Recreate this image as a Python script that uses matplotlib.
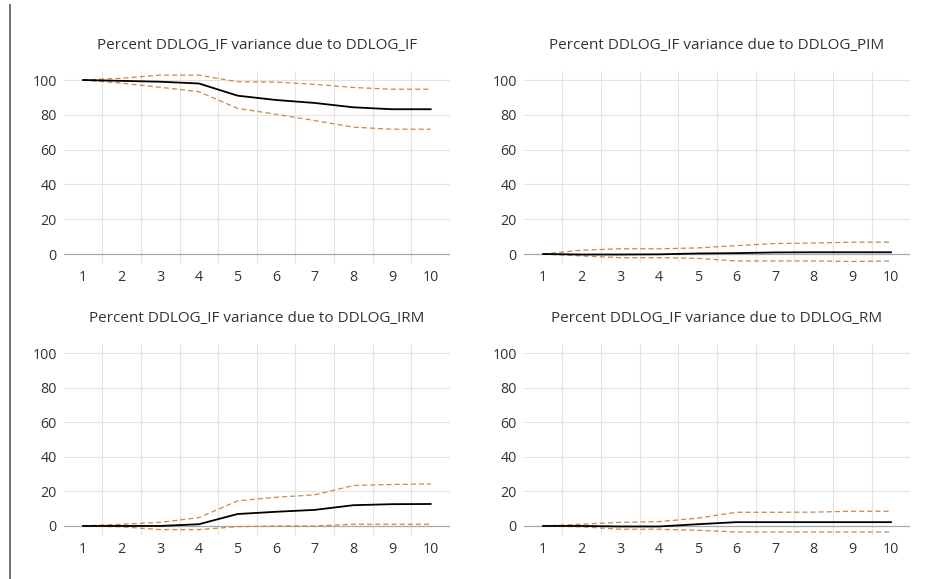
import numpy as np
import matplotlib.pyplot as plt
from matplotlib.lines import Line2D

plt.rcParams['font.family'] = ['Open Sans', 'DejaVu Sans']

periods = [1, 2, 3, 4, 5, 6, 7, 8, 9, 10]
sources = ['DDLOG_IF', 'DDLOG_PIM', 'DDLOG_IRM', 'DDLOG_RM']

# point estimates
if_mid = [100, 99.5, 99, 98, 91, 88.5, 86.8, 84.3, 83.2, 83.2]
pim_mid = [0, -0.3, -0.3, -0.2, 0.3, 0.5, 0.9, 1.0, 1.0, 1.0]
irm_mid = [0, 0, 0, 1.0, 6.9, 8.2, 9.3, 12.0, 12.6, 12.7]
rm_mid = [0, 0, -0.3, -0.3, 1.0, 2.2, 2.2, 2.2, 2.2, 2.2]

# +/- 2 s.e. bands
if_hi = [100, 101, 102.8, 102.8, 99, 98.8, 97.5, 95.7, 94.7, 94.7]
if_lo = [100, 98.2, 95.8, 93.3, 83.7, 80.3, 76.7, 72.9, 71.7, 71.7]
pim_hi = [0, 2.2, 3.0, 3.0, 3.5, 4.8, 6.0, 6.3, 6.8, 6.8]
pim_lo = [0, -1.1, -2.1, -2.1, -2.5, -4.0, -4.0, -4.0, -4.3, -4.0]
irm_hi = [0, 1.0, 2.1, 4.8, 14.5, 16.6, 18.0, 23.4, 24.0, 24.3]
irm_lo = [0, -0.5, -2.1, -2.1, -0.4, 0, 0, 1.0, 1.0, 1.0]
rm_hi = [0, 1.0, 2.1, 2.5, 4.5, 7.9, 7.9, 8.0, 8.5, 8.5]
rm_lo = [0, -0.5, -1.9, -1.9, -2.5, -3.5, -3.5, -3.5, -3.5, -3.5]

mids = [if_mid, pim_mid, irm_mid, rm_mid]
his = [if_hi, pim_hi, irm_hi, rm_hi]
los = [if_lo, pim_lo, irm_lo, rm_lo]

fig = plt.figure(figsize=(9.3, 5.79), dpi=100)
fig.patch.set_facecolor('white')

W, H = 930, 579
boxes = [(63.7, 71.3, 386.3, 191.4),
         (523.7, 71.3, 386.6, 191.4),
         (63.7, 344.4, 386.3, 190.2),
         (523.7, 344.4, 386.6, 190.2)]

band_col = '#c98848'
txt_col = '#333333'

for i, (x0, y0, w, h) in enumerate(boxes):
    ax = fig.add_axes([x0 / W, 1 - (y0 + h) / H, w / W, h / H])
    ax.set_xlim(0.5, 10.5)
    ax.set_ylim(-5, 105)
    for s in ax.spines.values():
        s.set_visible(False)
    for y in [20, 40, 60, 80, 100]:
        ax.axhline(y, color='#e3e3e3', lw=0.8, zorder=0)
    for x in np.arange(1.5, 10, 1):
        ax.axvline(x, color='#e3e3e3', lw=0.8, zorder=0)
    ax.axhline(0, color='#a8a8a8', lw=0.9, zorder=1)
    ax.plot(periods, his[i], color=band_col, lw=0.9, dashes=(4, 2.5), zorder=2)
    ax.plot(periods, los[i], color=band_col, lw=0.9, dashes=(4, 2.5), zorder=2)
    ax.plot(periods, mids[i], color='black', lw=1.3, zorder=3)
    ax.set_xticks(periods)
    ax.set_yticks([0, 20, 40, 60, 80, 100])
    ax.tick_params(length=0, labelsize=10.3, colors=txt_col)
    ax.tick_params(axis='y', pad=5)
    ax.tick_params(axis='x', pad=5)
    ax.set_title('Percent DDLOG_IF variance due to ' + sources[i],
                 fontsize=11, color=txt_col, pad=16)

fig.add_artist(Line2D([10 / W, 10 / W], [0, 1 - 5 / H], color='#555555', lw=1.2))

fig.savefig('out.png', dpi=100)
